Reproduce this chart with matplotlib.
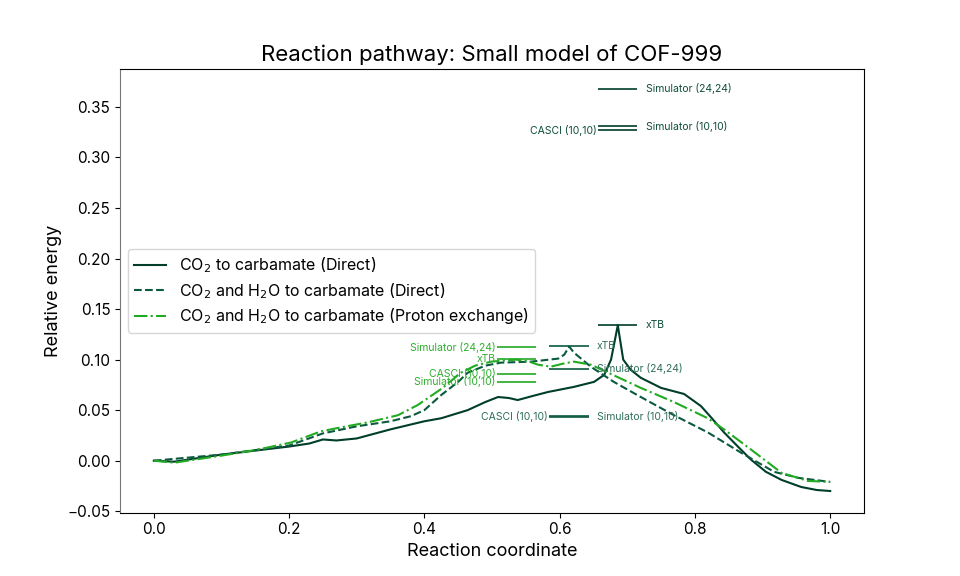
import numpy as np
import matplotlib.pyplot as plt

plt.rcParams['font.family'] = ['Inter', 'DejaVu Sans']

# pathway 1: CO2 to carbamate (Direct)
x_direct = [0.0, 0.03, 0.1, 0.15, 0.2, 0.23, 0.25, 0.27, 0.3, 0.35, 0.4, 0.425, 0.464,
            0.49, 0.509, 0.525, 0.538, 0.56, 0.583, 0.621, 0.651, 0.666, 0.676, 0.686,
            0.694, 0.705, 0.72, 0.75, 0.784, 0.809, 0.825, 0.843, 0.865, 0.883, 0.905,
            0.928, 0.957, 0.98, 1.0]
y_direct = [0.0, -0.001, 0.006, 0.010, 0.014, 0.017, 0.021, 0.020, 0.022, 0.031, 0.039,
            0.042, 0.050, 0.058, 0.063, 0.062, 0.060, 0.064, 0.068, 0.073, 0.078, 0.085,
            0.100, 0.134, 0.100, 0.090, 0.082, 0.072, 0.066, 0.054, 0.042, 0.028, 0.013,
            0.001, -0.011, -0.019, -0.026, -0.029, -0.030]

# pathway 2: CO2 and H2O to carbamate (Direct)
x_water = [0.0, 0.1, 0.2, 0.25, 0.3, 0.35, 0.38, 0.4, 0.425, 0.45, 0.464, 0.49, 0.513,
           0.558, 0.598, 0.607, 0.614, 0.621, 0.646, 0.68, 0.72, 0.769, 0.819, 0.868,
           0.917, 0.953, 1.0]
y_water = [0.0, 0.006, 0.015, 0.027, 0.034, 0.039, 0.044, 0.050, 0.065, 0.078, 0.087,
           0.094, 0.097, 0.098, 0.101, 0.105, 0.113, 0.107, 0.093, 0.078, 0.063, 0.045,
           0.028, 0.008, -0.011, -0.017, -0.021]

# pathway 3: CO2 and H2O to carbamate (Proton exchange)
x_proton = [0.0, 0.03, 0.1, 0.154, 0.203, 0.247, 0.277, 0.317, 0.361, 0.39, 0.425, 0.454,
            0.475, 0.499, 0.536, 0.555, 0.568, 0.587, 0.605, 0.621, 0.646, 0.672, 0.72,
            0.769, 0.819, 0.843, 0.883, 0.928, 0.967, 1.0]
y_proton = [0.0, -0.002, 0.005, 0.011, 0.018, 0.029, 0.033, 0.038, 0.045, 0.055, 0.071,
            0.087, 0.094, 0.098, 0.100, 0.098, 0.095, 0.093, 0.096, 0.098, 0.095, 0.087,
            0.072, 0.058, 0.042, 0.031, 0.011, -0.012, -0.020, -0.021]

labels = ['CO$_2$ to carbamate (Direct)',
          'CO$_2$ and H$_2$O to carbamate (Direct)',
          'CO$_2$ and H$_2$O to carbamate (Proton exchange)']
colors = ['#003d2b', '#0b5a40', '#22aa22']
text_colors = ['#0f4d3a', '#2e6e5a', '#2fae2f']

# reference energies at each transition state: (method, value, side)
refs_direct = [('xTB', 0.134, 'right'), ('Simulator (24,24)', 0.368, 'right'),
               ('Simulator (10,10)', 0.331, 'right'), ('CASCI (10,10)', 0.327, 'left')]
refs_water = [('xTB', 0.113, 'right'), ('Simulator (24,24)', 0.091, 'right'),
              ('Simulator (10,10)', 0.0440, 'right'), ('CASCI (10,10)', 0.0435, 'left')]
refs_proton = [('Simulator (24,24)', 0.112, 'left'), ('xTB', 0.101, 'left'),
               ('CASCI (10,10)', 0.086, 'left'), ('Simulator (10,10)', 0.078, 'left')]
ts_x = [0.686, 0.614, 0.536]

fig, ax = plt.subplots(figsize=(9.6, 5.76), dpi=100)

ax.plot(x_direct, y_direct, '-', color=colors[0], lw=1.5, label=labels[0])
ax.plot(x_water, y_water, '--', color=colors[1], lw=1.5, label=labels[1])
ax.plot(x_proton, y_proton, '-.', color=colors[2], lw=1.5, label=labels[2])

half = 0.029
for refs, cx, c, tc in zip([refs_direct, refs_water, refs_proton], ts_x, colors, text_colors):
    for name, val, side in refs:
        ax.hlines(val, cx - half, cx + half, color=c, lw=1.2)
        if side == 'right':
            ax.text(cx + half + 0.012, val, name, color=tc, fontsize=7.5,
                    va='center', ha='left')
        else:
            ax.text(cx - half - 0.002, val, name, color=tc, fontsize=7.5,
                    va='center', ha='right')

ax.set_xlim(-0.05, 1.05)
ax.set_ylim(-0.0514, 0.3874)
ax.set_yticks(np.arange(-0.05, 0.36, 0.05))
ax.tick_params(labelsize=11)
ax.spines['left'].set_color('#777777')

ax.set_title('Reaction pathway: Small model of COF-999', fontsize=16)
ax.set_xlabel('Reaction coordinate', fontsize=13)
ax.set_ylabel('Relative energy', fontsize=13)
ax.legend(loc='center left', fontsize=11.5, labelspacing=0.35)

plt.savefig('out.png')
